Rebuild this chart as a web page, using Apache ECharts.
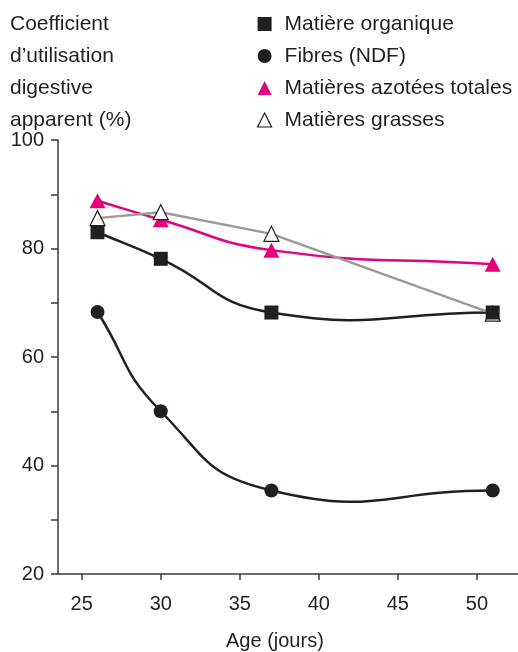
<!DOCTYPE html>
<html>
<head>
<meta charset="utf-8">
<script src="https://cdn.jsdelivr.net/npm/echarts@6/dist/echarts.min.js"></script>
<style>
html,body{margin:0;padding:0;background:#fff;}
#c{width:518px;height:652px;}
</style>
</head>
<body>
<div id="c"></div>
<script>
var ages = [26, 30, 37, 51];
var matiereOrganique = [83.0, 78.1, 68.2, 68.2];
var fibresNDF = [68.3, 50.0, 35.4, 35.4];
var matieresAzotees = [88.8, 85.3, 79.7, 77.1];
var matieresGrasses = [85.6, 86.7, 82.7, 68.0];
var xTickLabels = [25, 30, 35, 40, 45, 50];
var yTickLabels = [20, 40, 60, 80, 100];
var seriesNames = ['Matière organique', 'Fibres (NDF)', 'Matières azotées totales', 'Matières grasses'];
var yTitleLines = ['Coefficient', 'd\u2019utilisation', 'digestive', 'apparent (%)'];
var xTitle = 'Age (jours)';

function pairs(vals){ return ages.map(function(a,i){ return [a, vals[i]]; }); }

var FONT = 'Liberation Sans, Arial, Helvetica, sans-serif';
var INK = '#231f20';
var PINK = '#e5007e';
var GREY = '#9a9a9a';
var SMOOTH = 0.5;

function unit(v){ var l = Math.sqrt(v[0]*v[0] + v[1]*v[1]) || 1; return [v[0]/l, v[1]/l]; }

// smooth curve through the data points, positioned by the chart's own scales (api.coord)
function smoothCurve(vals, color, z){
  return {
    type: 'custom',
    data: pairs(vals),
    encode: {x: 0, y: 1},
    z: z,
    silent: true,
    renderItem: function(params, api){
      if (params.dataIndex !== 0) return null;
      var p = ages.map(function(a,i){ return api.coord([a, vals[i]]); });
      var n = p.length, tan = [], children = [];
      for (var i = 0; i < n; i++){
        var a = p[Math.max(i-1,0)], b = p[Math.min(i+1,n-1)];
        tan.push(unit([b[0]-a[0], b[1]-a[1]]));
      }
      for (var j = 0; j < n - 1; j++){
        var p1 = p[j], p2 = p[j+1];
        var d = Math.sqrt(Math.pow(p2[0]-p1[0],2) + Math.pow(p2[1]-p1[1],2)) * SMOOTH;
        children.push({
          type: 'bezierCurve',
          shape: {
            x1: p1[0], y1: p1[1], x2: p2[0], y2: p2[1],
            cpx1: p1[0] + tan[j][0]*d, cpy1: p1[1] + tan[j][1]*d,
            cpx2: p2[0] - tan[j+1][0]*d, cpy2: p2[1] - tan[j+1][1]*d
          },
          style: {stroke: color, lineWidth: 2.5, fill: null}
        });
      }
      return {type: 'group', children: children};
    }
  };
}

var chart = echarts.init(document.getElementById('c'));
chart.setOption({
  animation: false,
  backgroundColor: '#fff',
  textStyle: {fontFamily: FONT},
  title: {
    text: yTitleLines.join('\n'),
    left: 10, top: 8, padding: 0,
    textStyle: {fontFamily: FONT, fontSize: 21, fontWeight: 'normal', color: INK, lineHeight: 32}
  },
  legend: {
    orient: 'vertical',
    left: 252, top: 8,
    itemWidth: 14, itemHeight: 14,
    itemGap: 10,
    selectedMode: false,
    textStyle: {fontFamily: FONT, fontSize: 21, color: INK, lineHeight: 22, padding: [0,0,0,8]},
    data: [
      {name: seriesNames[0], icon: 'rect', itemStyle: {color: INK, borderWidth: 0}},
      {name: seriesNames[1], icon: 'circle', itemStyle: {color: INK, borderWidth: 0}},
      {name: seriesNames[2], icon: 'triangle', itemStyle: {color: PINK, borderWidth: 0}},
      {name: seriesNames[3], icon: 'triangle', itemStyle: {color: '#fff', borderColor: INK, borderWidth: 1.2}}
    ]
  },
  graphic: [{
    type: 'text', left: 276 - 50, top: 631,
    style: {text: xTitle, font: '20px ' + FONT, fill: INK, width: 100, align: 'center'}
  }],
  grid: {left: 58, right: 0, top: 140, bottom: 78, containLabel: false},
  xAxis: {
    type: 'value', min: 23.5, max: 52.6,
    axisLine: {show: true, onZero: false, lineStyle: {color: '#3a3a3a', width: 1.5}},
    axisTick: {show: true, length: 6, customValues: xTickLabels, lineStyle: {color: '#3a3a3a', width: 1.5}},
    axisLabel: {customValues: xTickLabels, margin: 20, fontFamily: FONT, fontSize: 20, color: INK},
    splitLine: {show: false}
  },
  yAxis: {
    type: 'value', min: 20, max: 100, interval: 10,
    axisLine: {show: true, lineStyle: {color: '#3a3a3a', width: 1.5}},
    axisTick: {show: true, length: 7, lineStyle: {color: '#3a3a3a', width: 1.5}},
    axisLabel: {margin: 14, fontFamily: FONT, fontSize: 20, color: INK,
      formatter: function(v){ return yTickLabels.indexOf(v) >= 0 ? String(v) : ''; }},
    splitLine: {show: false}
  },
  series: [
    smoothCurve(matieresAzotees, PINK, 1),
    smoothCurve(matiereOrganique, INK, 1),
    smoothCurve(fibresNDF, INK, 1),
    {
      name: seriesNames[0], type: 'line', data: pairs(matiereOrganique), z: 5,
      symbol: 'rect', symbolSize: 14,
      lineStyle: {opacity: 0},
      itemStyle: {color: INK, borderWidth: 0}
    },
    {
      name: seriesNames[1], type: 'line', data: pairs(fibresNDF), z: 6,
      symbol: 'circle', symbolSize: 14,
      lineStyle: {opacity: 0},
      itemStyle: {color: INK, borderWidth: 0}
    },
    {
      name: seriesNames[2], type: 'line', data: pairs(matieresAzotees), z: 3,
      symbol: 'triangle', symbolSize: [16, 15],
      lineStyle: {opacity: 0},
      itemStyle: {color: PINK, borderWidth: 0}
    },
    {
      name: seriesNames[3], type: 'line', data: pairs(matieresGrasses), smooth: false, z: 4,
      symbol: 'triangle', symbolSize: [15, 15],
      lineStyle: {color: GREY, width: 2.5},
      itemStyle: {color: '#fff', borderColor: INK, borderWidth: 1.2}
    }
  ]
});
</script>
</body>
</html>
